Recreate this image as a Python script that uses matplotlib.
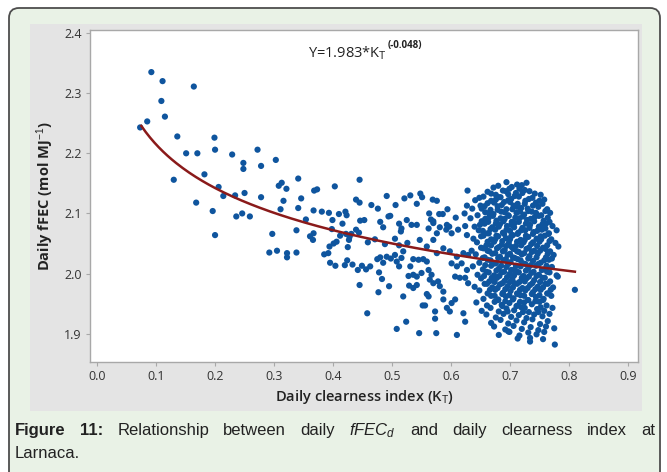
import numpy as np
import matplotlib
matplotlib.use("Agg")
import matplotlib.pyplot as plt
from matplotlib.patches import FancyBboxPatch, Rectangle

plt.rcParams['mathtext.fontset'] = 'custom'
plt.rcParams['mathtext.rm'] = 'Liberation Sans'
plt.rcParams['mathtext.it'] = 'Liberation Sans:italic'
plt.rcParams['mathtext.bf'] = 'Liberation Sans:bold'

# ---------------- data ----------------
fit_a = 1.983
fit_b = -0.048
fit_kt_range = [0.075, 0.81]

sparse_points = [
    (0.092, 2.335), (0.111, 2.320), (0.164, 2.311), (0.109, 2.287), (0.115, 2.261), (0.085, 2.253),
    (0.073, 2.243), (0.136, 2.228), (0.199, 2.226), (0.151, 2.200), (0.170, 2.200), (0.200, 2.206),
    (0.229, 2.198), (0.272, 2.206), (0.303, 2.189), (0.248, 2.184), (0.248, 2.174), (0.278, 2.179),
    (0.182, 2.165), (0.130, 2.156), (0.313, 2.151), (0.206, 2.144), (0.168, 2.118), (0.214, 2.129),
    (0.234, 2.130), (0.250, 2.134), (0.278, 2.127), (0.196, 2.104), (0.236, 2.095), (0.246, 2.100),
    (0.259, 2.095), (0.200, 2.064), (0.297, 2.066), (0.308, 2.146), (0.316, 2.121), (0.311, 2.107),
    (0.292, 2.035), (0.305, 2.038), (0.341, 2.158), (0.445, 2.156), (0.403, 2.145), (0.321, 2.141),
    (0.368, 2.138), (0.373, 2.140), (0.346, 2.125), (0.439, 2.123), (0.445, 2.118), (0.491, 2.129),
    (0.521, 2.125), (0.531, 2.130), (0.548, 2.133), (0.551, 2.127), (0.569, 2.123), (0.576, 2.121),
    (0.506, 2.114), (0.542, 2.116), (0.465, 2.114), (0.476, 2.108), (0.341, 2.109), (0.367, 2.105),
    (0.381, 2.103), (0.393, 2.101), (0.410, 2.099), (0.421, 2.103), (0.423, 2.097), (0.399, 2.089),
    (0.354, 2.090), (0.338, 2.072), (0.416, 2.083), (0.446, 2.088), (0.453, 2.089), (0.494, 2.095),
    (0.497, 2.096), (0.480, 2.086), (0.485, 2.077), (0.512, 2.083), (0.516, 2.075), (0.525, 2.089),
    (0.533, 2.081), (0.542, 2.081), (0.563, 2.100), (0.566, 2.090), (0.570, 2.084), (0.580, 2.099),
    (0.586, 2.099), (0.594, 2.107), (0.608, 2.093), (0.623, 2.100), (0.628, 2.138), (0.627, 2.113),
    (0.592, 2.073), (0.597, 2.078), (0.562, 2.075), (0.581, 2.077), (0.367, 2.067), (0.361, 2.062),
    (0.439, 2.073), (0.444, 2.068), (0.431, 2.066), (0.398, 2.074), (0.322, 2.034), (0.322, 2.027),
    (0.338, 2.035), (0.366, 2.056), (0.385, 2.032), (0.392, 2.034), (0.394, 2.045), (0.401, 2.050),
    (0.406, 2.053), (0.395, 2.018), (0.404, 2.013), (0.412, 2.063), (0.422, 2.066), (0.428, 2.061),
    (0.425, 2.044), (0.427, 2.056), (0.420, 2.014), (0.424, 2.022), (0.433, 2.015), (0.442, 2.006),
    (0.449, 2.013), (0.456, 2.007), (0.463, 2.012), (0.445, 1.981), (0.458, 1.934), (0.459, 2.052),
    (0.471, 2.057), (0.475, 2.024), (0.480, 2.027), (0.485, 2.018), (0.491, 2.028), (0.478, 2.002),
    (0.483, 1.991), (0.477, 1.969), (0.495, 1.979), (0.488, 2.049), (0.498, 2.025), (0.505, 2.031),
    (0.508, 2.020), (0.512, 2.012), (0.516, 2.026), (0.505, 2.058), (0.512, 2.047), (0.519, 2.037),
    (0.526, 2.051), (0.515, 2.070), (0.508, 1.908), (0.524, 1.920), (0.519, 1.962), (0.529, 1.980),
    (0.536, 1.976), (0.542, 1.981), (0.546, 1.901), (0.552, 1.947), (0.556, 1.947), (0.559, 1.966),
    (0.562, 1.962), (0.575, 1.901), (0.573, 1.937), (0.573, 1.925), (0.531, 2.012), (0.536, 1.998),
    (0.528, 1.996), (0.542, 1.995), (0.536, 2.024), (0.545, 2.023), (0.553, 2.024), (0.559, 2.020),
    (0.550, 2.001), (0.562, 2.006), (0.567, 1.998), (0.564, 1.990), (0.570, 1.984), (0.578, 1.987),
    (0.581, 1.979), (0.587, 1.970), (0.587, 1.957), (0.593, 1.943), (0.601, 1.951), (0.607, 1.957),
    (0.598, 1.937), (0.610, 1.898), (0.621, 1.934), (0.624, 1.920), (0.547, 2.056), (0.559, 2.045),
    (0.570, 2.056), (0.576, 2.034), (0.587, 2.042), (0.598, 2.037), (0.610, 2.028), (0.621, 2.034),
    (0.629, 2.031), (0.601, 2.017), (0.610, 2.012), (0.618, 2.017), (0.627, 2.006), (0.607, 1.995),
    (0.615, 1.993), (0.624, 1.993), (0.629, 1.984), (0.570, 2.087), (0.593, 2.081), (0.601, 2.067),
    (0.612, 2.073), (0.624, 2.079), (0.627, 2.064), (0.576, 2.067), (0.810, 1.973), (0.697, 1.904),
    (0.734, 1.893),
]

dense_points = [
    (0.694, 2.152), (0.712, 2.148), (0.728, 2.151),
    (0.672, 2.143), (0.688, 2.138), (0.703, 2.144), (0.716, 2.141), (0.733, 2.137),
    (0.655, 2.128), (0.668, 2.133), (0.681, 2.127), (0.697, 2.132), (0.708, 2.129), (0.721, 2.134), (0.738, 2.126), (0.752, 2.131),
    (0.641, 2.122), (0.662, 2.117), (0.676, 2.123), (0.690, 2.119), (0.702, 2.124), (0.713, 2.116), (0.726, 2.121), (0.744, 2.118), (0.758, 2.123),
    (0.636, 2.108), (0.650, 2.113), (0.667, 2.106), (0.679, 2.112), (0.694, 2.107), (0.706, 2.113), (0.719, 2.109), (0.731, 2.104), (0.748, 2.111), (0.763, 2.107),
    (0.645, 2.097), (0.658, 2.102), (0.672, 2.099), (0.685, 2.103), (0.698, 2.096), (0.711, 2.101), (0.724, 2.098), (0.737, 2.103), (0.753, 2.097), (0.768, 2.101),
    (0.633, 2.092), (0.652, 2.087), (0.664, 2.093), (0.677, 2.088), (0.691, 2.091), (0.703, 2.086), (0.716, 2.092), (0.729, 2.089), (0.742, 2.094), (0.757, 2.088),
    (0.640, 2.078), (0.657, 2.083), (0.670, 2.077), (0.683, 2.082), (0.695, 2.079), (0.708, 2.084), (0.721, 2.076), (0.734, 2.081), (0.749, 2.078), (0.761, 2.083), (0.772, 2.079),
    (0.647, 2.072), (0.662, 2.067), (0.675, 2.073), (0.688, 2.068), (0.700, 2.071), (0.713, 2.066), (0.726, 2.072), (0.740, 2.069), (0.754, 2.073), (0.766, 2.067),
    (0.638, 2.058), (0.655, 2.063), (0.668, 2.057), (0.680, 2.062), (0.693, 2.059), (0.705, 2.064), (0.718, 2.056), (0.731, 2.061), (0.745, 2.058), (0.759, 2.063), (0.770, 2.057),
    (0.644, 2.052), (0.660, 2.047), (0.673, 2.053), (0.686, 2.048), (0.698, 2.051), (0.710, 2.046), (0.723, 2.052), (0.736, 2.049), (0.750, 2.053), (0.763, 2.047), (0.777, 2.051),
    (0.635, 2.038), (0.651, 2.043), (0.665, 2.037), (0.678, 2.042), (0.691, 2.039), (0.703, 2.044), (0.715, 2.036), (0.728, 2.041), (0.741, 2.038), (0.756, 2.043), (0.768, 2.037),
    (0.642, 2.032), (0.657, 2.027), (0.670, 2.033), (0.683, 2.028), (0.696, 2.031), (0.708, 2.026), (0.720, 2.032), (0.733, 2.029), (0.747, 2.033), (0.761, 2.027), (0.774, 2.031),
    (0.648, 2.018), (0.662, 2.023), (0.676, 2.017), (0.689, 2.022), (0.701, 2.019), (0.713, 2.024), (0.726, 2.016), (0.739, 2.021), (0.752, 2.018), (0.766, 2.023),
    (0.637, 2.012), (0.654, 2.007), (0.668, 2.013), (0.681, 2.008), (0.694, 2.011), (0.706, 2.006), (0.718, 2.012), (0.731, 2.009), (0.744, 2.013), (0.758, 2.007), (0.771, 2.011),
    (0.645, 1.998), (0.660, 2.003), (0.673, 1.997), (0.686, 2.002), (0.699, 1.999), (0.711, 2.004), (0.723, 1.996), (0.736, 2.001), (0.749, 1.998), (0.763, 2.003), (0.779, 1.997),
    (0.651, 1.992), (0.665, 1.987), (0.678, 1.993), (0.691, 1.988), (0.704, 1.991), (0.716, 1.986), (0.728, 1.992), (0.741, 1.989), (0.755, 1.993), (0.768, 1.987),
    (0.640, 1.978), (0.657, 1.983), (0.670, 1.977), (0.683, 1.982), (0.696, 1.979), (0.708, 1.984), (0.721, 1.976), (0.734, 1.981), (0.747, 1.978), (0.760, 1.983), (0.773, 1.977),
    (0.648, 1.972), (0.662, 1.967), (0.675, 1.973), (0.688, 1.968), (0.701, 1.971), (0.713, 1.966), (0.726, 1.972), (0.739, 1.969), (0.752, 1.973), (0.765, 1.967),
    (0.655, 1.958), (0.668, 1.963), (0.680, 1.957), (0.693, 1.962), (0.706, 1.959), (0.718, 1.964), (0.731, 1.956), (0.744, 1.961), (0.757, 1.958), (0.770, 1.963),
    (0.643, 1.952), (0.661, 1.947), (0.674, 1.953), (0.686, 1.948), (0.699, 1.951), (0.711, 1.946), (0.724, 1.952), (0.737, 1.949), (0.750, 1.953), (0.762, 1.947),
    (0.652, 1.938), (0.667, 1.943), (0.681, 1.937), (0.694, 1.942), (0.707, 1.939), (0.719, 1.944), (0.732, 1.936), (0.746, 1.941), (0.758, 1.938), (0.772, 1.943),
    (0.660, 1.932), (0.676, 1.927), (0.689, 1.933), (0.702, 1.928), (0.715, 1.931), (0.728, 1.926), (0.741, 1.932), (0.755, 1.929), (0.767, 1.933),
    (0.668, 1.918), (0.684, 1.923), (0.697, 1.917), (0.711, 1.922), (0.724, 1.919), (0.738, 1.924), (0.751, 1.916), (0.764, 1.921),
    (0.673, 1.912), (0.692, 1.907), (0.706, 1.913), (0.720, 1.908), (0.735, 1.911), (0.748, 1.906), (0.761, 1.912), (0.775, 1.909),
    (0.681, 1.898), (0.699, 1.903), (0.716, 1.897), (0.731, 1.902), (0.745, 1.899), (0.758, 1.903),
    (0.713, 1.892), (0.734, 1.887), (0.756, 1.891),
    (0.776, 1.882),
]

dense_points_b = [
    (0.680, 2.146), (0.699, 2.141), (0.720, 2.147),
    (0.662, 2.136), (0.676, 2.131), (0.693, 2.137), (0.710, 2.134), (0.725, 2.139), (0.742, 2.133),
    (0.648, 2.126), (0.668, 2.121), (0.684, 2.127), (0.697, 2.122), (0.715, 2.128), (0.732, 2.124), (0.750, 2.121),
    (0.657, 2.112), (0.673, 2.118), (0.686, 2.114), (0.700, 2.119), (0.712, 2.111), (0.725, 2.116), (0.739, 2.113), (0.755, 2.116),
    (0.652, 2.108), (0.665, 2.101), (0.679, 2.106), (0.691, 2.102), (0.704, 2.107), (0.717, 2.103), (0.730, 2.108), (0.744, 2.101), (0.760, 2.104),
    (0.658, 2.091), (0.671, 2.096), (0.684, 2.092), (0.697, 2.097), (0.709, 2.093), (0.722, 2.095), (0.735, 2.091), (0.749, 2.096), (0.764, 2.093),
    (0.649, 2.081), (0.663, 2.086), (0.676, 2.083), (0.689, 2.087), (0.702, 2.081), (0.715, 2.086), (0.727, 2.083), (0.741, 2.087), (0.755, 2.082), (0.767, 2.086),
    (0.654, 2.071), (0.667, 2.074), (0.681, 2.078), (0.694, 2.073), (0.707, 2.077), (0.719, 2.072), (0.733, 2.076), (0.746, 2.071), (0.760, 2.075), (0.779, 2.072),
    (0.651, 2.062), (0.664, 2.067), (0.677, 2.063), (0.690, 2.066), (0.702, 2.062), (0.714, 2.068), (0.727, 2.063), (0.739, 2.066), (0.752, 2.062), (0.765, 2.066),
    (0.662, 2.053), (0.675, 2.057), (0.687, 2.054), (0.700, 2.057), (0.712, 2.053), (0.725, 2.056), (0.739, 2.052), (0.753, 2.057), (0.767, 2.054),
    (0.655, 2.042), (0.668, 2.047), (0.681, 2.044), (0.694, 2.046), (0.706, 2.041), (0.719, 2.047), (0.732, 2.043), (0.746, 2.046), (0.760, 2.041), (0.782, 2.045),
    (0.662, 2.038), (0.675, 2.034), (0.688, 2.037), (0.700, 2.033), (0.712, 2.037), (0.724, 2.034), (0.737, 2.036), (0.751, 2.038), (0.764, 2.033),
    (0.654, 2.026), (0.667, 2.022), (0.680, 2.026), (0.693, 2.024), (0.705, 2.027), (0.718, 2.022), (0.731, 2.025), (0.745, 2.027), (0.758, 2.022), (0.771, 2.025),
    (0.658, 2.014), (0.671, 2.016), (0.685, 2.013), (0.697, 2.016), (0.710, 2.013), (0.722, 2.017), (0.735, 2.014), (0.748, 2.016), (0.762, 2.013),
    (0.664, 2.002), (0.677, 2.005), (0.690, 2.003), (0.702, 2.006), (0.715, 2.002), (0.727, 2.005), (0.740, 2.003), (0.754, 2.006), (0.767, 2.002),
    (0.656, 1.996), (0.669, 1.993), (0.682, 1.996), (0.695, 1.994), (0.707, 1.997), (0.720, 1.993), (0.732, 1.995), (0.745, 1.996), (0.759, 1.993), (0.781, 1.995),
    (0.661, 1.983), (0.674, 1.986), (0.687, 1.984), (0.700, 1.986), (0.712, 1.983), (0.725, 1.987), (0.738, 1.984), (0.751, 1.986), (0.764, 1.983),
    (0.666, 1.973), (0.679, 1.976), (0.692, 1.974), (0.705, 1.977), (0.717, 1.973), (0.730, 1.976), (0.743, 1.974), (0.756, 1.977), (0.769, 1.973),
    (0.674, 1.963), (0.687, 1.966), (0.699, 1.964), (0.712, 1.967), (0.724, 1.963), (0.737, 1.966), (0.750, 1.964), (0.763, 1.967),
    (0.680, 1.956), (0.692, 1.954), (0.705, 1.957), (0.717, 1.953), (0.730, 1.956), (0.743, 1.954), (0.756, 1.956),
    (0.687, 1.946), (0.713, 1.947), (0.725, 1.943), (0.752, 1.944),
    (0.696, 1.937), (0.722, 1.936), (0.748, 1.936),
]

x_ticks = [0.0, 0.1, 0.2, 0.3, 0.4, 0.5, 0.6, 0.7, 0.8, 0.9]
y_ticks = [1.9, 2.0, 2.1, 2.2, 2.3, 2.4]
x_label = "Daily clearness index (K$_\\mathrm{T}$)"
y_label = "Daily fFEC (mol MJ$^{\\mathrm{-1}}$)"
eq_main = "Y=1.983*K$_\\mathrm{T}$"
eq_exp = "(-0.048)"

# ---------------- figure ----------------
W, H = 667, 472
fig = plt.figure(figsize=(W / 100, H / 100), dpi=100)
fig.patch.set_facecolor('white')

bg = fig.add_axes([0, 0, 1, 1], zorder=0)
bg.set_xlim(0, W)
bg.set_ylim(H, 0)
bg.axis('off')
bg.add_patch(FancyBboxPatch((9, 8), 651, 480, boxstyle="round,pad=0,rounding_size=10",
                            fc='#e9f2e6', ec='#4d4d4d', lw=1.3))
bg.add_patch(Rectangle((30, 24), 612, 387, fc='#e4e4e4', ec='none'))

L, R, T, B = 90, 638, 30, 362
ax = fig.add_axes([L / W, 1 - B / H, (R - L) / W, (B - T) / H], zorder=1)
ax.set_facecolor('white')

pts = sparse_points + dense_points + dense_points_b
kt = np.array([p[0] for p in pts])
fec = np.array([p[1] for p in pts])
ax.scatter(kt, fec, s=20, color='#0f559e', edgecolors='none', zorder=2)

kk = np.linspace(fit_kt_range[0], fit_kt_range[1], 200)
ax.plot(kk, fit_a * kk ** fit_b, color='#8a1a1a', lw=1.8, zorder=3)

ax.set_xlim(-0.012, 0.917)
ax.set_ylim(1.853, 2.405)
ax.set_xticks(x_ticks)
ax.set_xticklabels([f"{v:.1f}" for v in x_ticks])
ax.set_yticks(y_ticks)
ax.set_yticklabels([f"{v:.1f}" for v in y_ticks])
for s in ax.spines.values():
    s.set_color('#a8a8a8')
    s.set_linewidth(1.0)
ax.tick_params(axis='both', direction='out', length=3, width=0.8, color='#a8a8a8',
               labelsize=9, labelcolor='#333333', pad=3)
for lab in ax.get_xticklabels() + ax.get_yticklabels():
    lab.set_family('Open Sans')

ax.set_xlabel(x_label, fontsize=10.5, family='Open Sans', fontweight='semibold', color='#222222', labelpad=3)
ax.set_ylabel(y_label, fontsize=10.5, family='Open Sans', fontweight='bold', color='#222222', labelpad=6)

eq = ax.text(0.398, 0.918, eq_main, transform=ax.transAxes, fontsize=10.5, family='Open Sans',
             color='#222222', ha='left', va='baseline')
renderer = fig.canvas.get_renderer()
eb = eq.get_window_extent(renderer)
ax_bb = ax.get_window_extent(renderer)
ax.text((eb.x1 + 1 - ax_bb.x0) / ax_bb.width, 0.918 + 9 / ax_bb.height, eq_exp,
        transform=ax.transAxes, fontsize=7, family='Open Sans', fontweight='bold',
        color='#222222', ha='left', va='baseline')

# ---------------- caption ----------------
cap_words = [("Figure", 'bold', 'normal'), ("11:", 'bold', 'normal'),
             ("Relationship", 'normal', 'normal'), ("between", 'normal', 'normal'),
             ("daily", 'normal', 'normal'), ("$fFEC_d$", 'normal', 'normal'),
             ("and", 'normal', 'normal'), ("daily", 'normal', 'normal'),
             ("clearness", 'normal', 'normal'), ("index", 'normal', 'normal'),
             ("at", 'normal', 'normal')]
cap_line2 = "Larnaca."
cap_size = 12
x0, x1, y1, y2 = 15, 655, 435, 458

txts = []
widths = []
for w, wt, st in cap_words:
    t = bg.text(0, y1, w, fontsize=cap_size, family='Liberation Sans', fontweight=wt,
                style=st, color='#222222', ha='left', va='baseline')
    txts.append(t)
    widths.append(t.get_window_extent(renderer).width)
gap = (x1 - x0 - sum(widths)) / (len(widths) - 1)
xc = x0
for t, wd in zip(txts, widths):
    t.set_x(xc)
    xc += wd + gap
bg.text(x0, y2, cap_line2, fontsize=cap_size, family='Liberation Sans', color='#222222',
        ha='left', va='baseline')

fig.savefig('out.png', dpi=100)
